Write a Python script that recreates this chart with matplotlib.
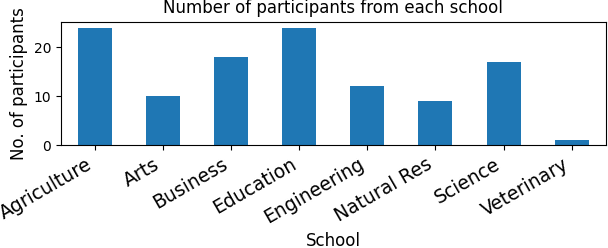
import matplotlib
matplotlib.use("Agg")
import matplotlib.pyplot as plt
import numpy as np

schools = ["Agriculture", "Arts", "Business", "Education", "Engineering",
           "Natural Res", "Science", "Veterinary"]
counts = [24, 10, 18, 24, 12, 9, 17, 1]

fig = plt.figure(figsize=(6.08, 2.48), dpi=100)
ax = fig.add_axes([0.1003, 0.4153, 0.8959, 0.4972])
x = np.arange(len(schools))
ax.bar(x, counts, width=0.5, color="#1f77b4")
ax.set_xlim(-0.5, len(schools) - 0.5)
ax.set_ylim(0, max(counts) * 1.05)
ax.set_xticks(x)
ax.set_xticklabels(schools, rotation=30, ha="right", fontsize=13.5)
ax.set_yticks([0, 10, 20])
ax.tick_params(axis="y", labelsize=10)
ax.set_ylabel("No. of participants", fontsize=12)
ax.set_xlabel("School", fontsize=12, labelpad=3)
ax.set_title("Number of participants from each school", fontsize=12)
fig.savefig("out.png", dpi=100)
